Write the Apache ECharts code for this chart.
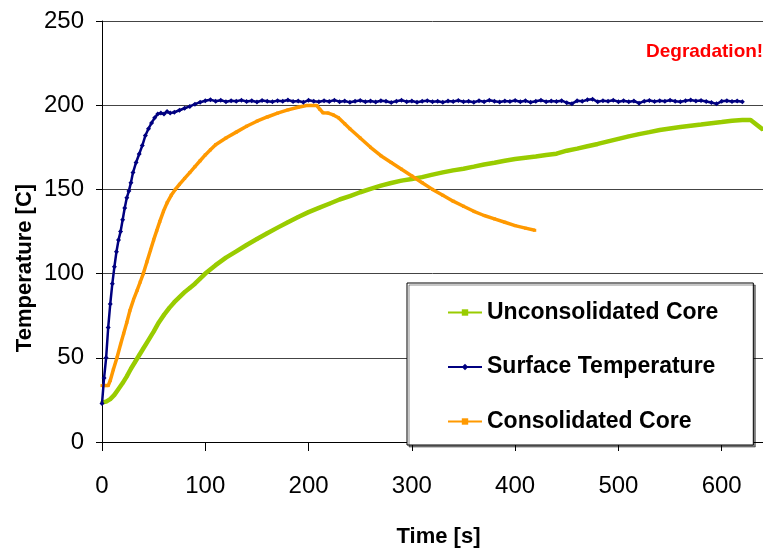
<!DOCTYPE html>
<html>
<head>
<meta charset="utf-8">
<script src="https://cdn.jsdelivr.net/npm/echarts@6/dist/echarts.min.js"></script>
<style>
  html, body { margin: 0; padding: 0; background: #fff; }
  #chart { width: 763px; height: 552px; }
</style>
</head>
<body>
<div id="chart"></div>
<script>
// values
var seriesNames = ['Unconsolidated Core', 'Surface Temperature', 'Consolidated Core'];
var xTicks = [0, 100, 200, 300, 400, 500, 600];
var yTicks = [0, 50, 100, 150, 200, 250];

var unconsTime = [0, 4, 8, 12, 16, 20, 24, 28, 32, 36, 40, 45, 50, 55, 60, 65, 70, 75, 80, 85, 90, 95, 100,
  110, 120, 130, 140, 150, 160, 170, 180, 190, 200, 210, 220, 230, 240, 250, 260, 270, 280, 290, 300,
  310, 320, 330, 340, 350, 360, 370, 380, 390, 400, 410, 420, 430, 440, 450, 460, 470, 480, 490, 500,
  510, 520, 530, 540, 550, 560, 570, 580, 590, 600, 610, 620, 628, 640];
var unconsTemp = [23.5, 24, 25.5, 28, 31.5, 35, 39, 43.5, 47.5, 51.5, 55.5, 60.5, 65.5, 71, 75.5, 79.5, 83, 86, 89, 91.5, 94, 97, 100,
  105, 109.5, 113.2, 117, 120.5, 124, 127.3, 130.5, 133.6, 136.5, 139, 141.5, 144, 146, 148.3, 150.3, 152.2, 153.8, 155.2, 156.2,
  157.3, 158.8, 160.1, 161.3, 162.3, 163.5, 164.8, 165.8, 167, 168, 168.8, 169.5, 170.4, 171.2, 173, 174.2, 175.6, 177, 178.5, 180,
  181.5, 182.8, 184, 185.3, 186.2, 187, 187.8, 188.5, 189.3, 190, 190.8, 191.2, 191.2, 185.5];

var surfaceTime = [0, 2, 4, 6, 8, 10, 12, 14, 16, 18, 20, 22, 24, 26, 28, 30, 33, 36, 39, 42, 45, 48, 51, 54, 57, 60, 63, 66,
  70, 75, 80, 85, 90, 95, 100, 105, 110, 115, 120, 125, 130, 135, 140, 145, 150, 155, 160, 165, 170, 175,
  180, 185, 190, 195, 200, 205, 210, 215, 220, 225, 230, 235, 240, 245, 250, 255, 260, 265, 270, 275,
  280, 285, 290, 295, 300, 305, 310, 315, 320, 325, 330, 335, 340, 345, 350, 355, 360, 365, 370, 375,
  380, 385, 390, 395, 400, 405, 410, 415, 420, 425, 430, 435, 440, 445, 450, 455, 460, 465, 470, 475,
  480, 485, 490, 495, 500, 505, 510, 515, 520, 525, 530, 535, 540, 545, 550, 555, 560, 565, 570, 575,
  580, 585, 590, 595, 600, 605, 610, 615, 620];
var surfaceTemp = [22.8, 38, 50, 68, 82, 94, 104, 113, 120, 125, 132, 139, 145, 149, 154, 160, 166, 171, 176, 182, 186, 189.5, 192.5, 194.8, 195.3, 194.8, 196.2, 195.3,
  195.8, 197.0, 198.2, 199.3, 200.6, 201.8, 202.6, 203.2, 202.4, 202.9, 202.1, 202.7, 202.3, 203.0, 202.2, 202.6, 201.9, 202.8, 202.4, 202.0, 202.7, 202.3,
  203.1, 202.2, 202.5, 201.8, 202.9, 202.4, 202.0, 202.6, 202.2, 203.0, 202.1, 202.5, 201.7, 202.4, 202.8, 202.0, 202.5, 201.9, 202.6, 202.3,
  201.6, 202.4, 202.9, 202.1, 202.5, 201.8, 202.3, 202.7, 202.0, 202.4, 201.7, 202.5, 202.2, 202.8, 202.0, 202.4, 201.8, 202.6, 202.1, 202.9,
  202.3, 201.9, 202.5, 202.2, 202.8, 202.0, 202.6, 201.7, 202.4, 202.9, 202.1, 202.5, 202.2, 202.7, 201.5, 200.9, 202.6, 202.3, 203.2, 203.6,
  202.0, 202.7, 202.3, 202.9, 202.1, 202.6, 202.0, 202.5, 201.2, 202.4, 202.8, 202.2, 202.7, 202.3, 202.9, 202.4, 202.1, 202.7, 203.1, 202.5,
  202.8, 202.2, 201.6, 200.8, 202.3, 202.7, 202.2, 202.5, 202.1];

var consTime = [0, 3, 6, 8, 11, 14.5, 18, 21, 24, 27, 30.5, 34, 37, 40, 43.5, 47, 50, 53, 56, 59.5, 63, 67, 71, 75, 80, 85, 90, 95,
  100, 105, 110, 120, 130, 140, 150, 160, 170, 180, 190, 198, 208, 211, 214, 219, 224, 229, 235, 240, 250, 260,
  270, 280, 290, 300, 310, 320, 330, 340, 350, 360, 370, 380, 390, 400, 410, 419];
var consTemp = [33.5, 33.5, 33.5, 36.5, 43, 50, 58, 64.5, 71, 78, 84.5, 90, 95, 100, 107, 114, 120, 125.5, 131, 137, 142, 146.5, 150, 153, 156.5, 160, 163.5, 167,
  170.5, 173.5, 176.5, 180.5, 184, 187.5, 190.5, 193, 195.3, 197.2, 198.8, 199.8, 199.8, 197.5, 195.5, 195.3, 194.2, 192.5, 189, 186, 180.5, 175,
  170, 166, 162, 158, 154, 150, 146.5, 143, 140, 137, 134.5, 132.5, 130.5, 128.5, 127, 125.7];

function pairs(ts, vs) {
  return ts.map(function (t, i) { return [t, vs[i]]; });
}

var font = "'Liberation Sans', Arial, sans-serif";

var chart = echarts.init(document.getElementById('chart'));
chart.setOption({
  animation: false,
  backgroundColor: '#fff',
  grid: { left: 102, right: 0, top: 21, bottom: 110, outerBoundsMode: 'none' },
  xAxis: {
    type: 'value',
    min: xTicks[0],
    max: 640,
    interval: 100,
    name: 'Time [s]',
    nameLocation: 'middle',
    nameGap: 84,
    nameTextStyle: { fontFamily: font, fontSize: 22, fontWeight: 'bold', color: '#000', padding: [0, 0, 0, 12] },
    axisLine: { show: true, onZero: false, lineStyle: { color: '#000', width: 1 } },
    axisTick: { show: true, inside: false, length: 9, lineStyle: { color: '#000' } },
    axisLabel: {
      margin: 32, fontFamily: font, fontSize: 24, color: '#000', showMaxLabel: false,
      formatter: function (v) { return xTicks.indexOf(v) >= 0 ? String(v) : ''; }
    },
    splitLine: { show: false }
  },
  yAxis: {
    type: 'value',
    min: yTicks[0],
    max: yTicks[yTicks.length - 1],
    interval: 50,
    axisLine: { show: true, lineStyle: { color: '#000', width: 1 } },
    axisTick: { show: true, inside: false, length: 6, lineStyle: { color: '#000' } },
    axisLabel: { margin: 18, fontFamily: font, fontSize: 24, color: '#000' },
    splitLine: { show: true, lineStyle: { color: '#444', width: 1 } }
  },
  legend: {
    orient: 'vertical',
    left: 407,
    top: 283,
    padding: [18, 35, 12, 40],
    itemGap: 31.5,
    itemWidth: 34,
    itemHeight: 8,
    itemTextGap: 6,
    backgroundColor: '#fff',
    borderColor: '#000',
    borderWidth: 1,
    shadowColor: 'rgba(0,0,0,0.45)',
    shadowOffsetX: 2,
    shadowOffsetY: 2,
    shadowBlur: 0,
    lineStyle: { width: 2 },
    textStyle: { fontFamily: font, fontSize: 23, fontWeight: 'bold', color: '#000' },
    data: seriesNames
  },
  graphic: [
    {
      type: 'text', x: 646, y: 52,
      style: { text: 'Degradation!', font: 'bold 19px ' + font, fill: '#ff0000', verticalAlign: 'middle' }
    },
    {
      type: 'text', x: 25, y: 268, rotation: Math.PI / 2,
      style: { text: 'Temperature [C]', font: 'bold 22px ' + font, fill: '#000', align: 'center', verticalAlign: 'middle' }
    }
  ],
  series: [
    {
      name: seriesNames[0], type: 'line', data: pairs(unconsTime, unconsTemp),
      color: '#99cc00', symbol: 'rect', symbolSize: 3, showSymbol: true,
      lineStyle: { width: 4.5 }, z: 2
    },
    {
      name: seriesNames[2], type: 'line', data: pairs(consTime, consTemp),
      color: '#ff9900', symbol: 'rect', symbolSize: 3, showSymbol: true,
      lineStyle: { width: 3.5 }, z: 3
    },
    {
      name: seriesNames[1], type: 'line', data: pairs(surfaceTime, surfaceTemp),
      color: '#000080', symbol: 'diamond', symbolSize: 5, showSymbol: true,
      lineStyle: { width: 2.5 }, z: 4
    }
  ]
});
</script>
</body>
</html>
